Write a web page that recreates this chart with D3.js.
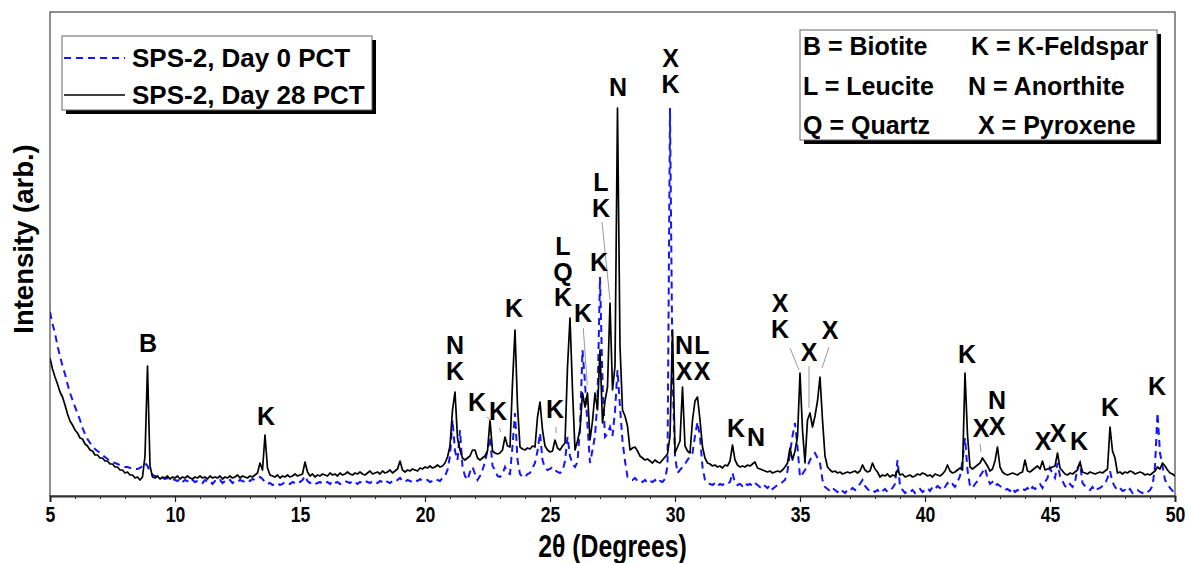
<!DOCTYPE html>
<html>
<head>
<meta charset="utf-8">
<script src="https://cdn.jsdelivr.net/npm/d3@7"></script>
<style>
  html, body { margin: 0; padding: 0; background: #fff; }
  svg { display: block; }
</style>
</head>
<body>
<svg id="chart" width="1189" height="563"></svg>
<script>
// XRD scan settings (2θ start and step, degrees)
const scanStart = 5;
const scanStep = 0.1;

// Intensity (arb.) of SPS-2 before PCT, one value per scan step from 5° to 50°
const day0 = [
  184,172,163,150,140,130,122,112,103,96,
  89,83,76,68,62,57,53,50,47,45,
  43,41,39,37,35,34,33,32,31,30,
  29,29,28,28,27,27,28,30,33,30,
  24,21,20,19,18,18,17,18,16,17,
  16,15,17,14,16,15,13,16,14,15,
  15,13,16,14,15,12,15,14,16,13,
  15,14,16,13,15,14,16,15,14,16,
  15,17,16,18,19,17,14,12,13,11,
  12,13,11,12,14,13,12,14,13,15,
  14,16,20,15,13,14,12,13,14,12,
  13,14,12,15,13,14,12,13,15,14,
  13,15,14,12,14,13,15,14,13,15,
  14,13,15,14,16,14,13,15,14,16,
  18,15,14,16,15,14,16,15,17,15,
  15,16,14,15,17,16,15,18,20,26,
  40,76,45,36,66,29,20,16,24,29,
  22,16,20,26,34,46,59,30,26,20,
  19,22,29,23,22,50,83,36,22,19,
  19,22,23,28,33,45,63,36,28,26,
  27,29,26,24,23,25,35,59,40,32,
  29,34,69,146,113,70,33,46,60,96,
  219,113,59,62,69,60,85,126,89,55,
  35,19,17,16,18,15,16,14,16,13,
  15,14,16,13,15,14,17,30,388,120,
  40,23,26,29,32,36,40,43,60,74,
  59,29,16,13,12,11,13,10,12,11,
  13,12,14,23,13,11,12,10,13,11,
  12,10,13,11,9,12,10,8,11,7,
  9,11,12,14,16,25,43,60,73,49,
  19,22,26,30,36,40,43,38,33,16,
  9,7,5,8,6,4,7,5,3,6,
  5,8,6,9,12,16,10,7,5,6,
  4,6,3,5,7,4,6,8,12,36,
  10,6,3,5,4,6,3,5,7,4,
  6,8,5,9,7,10,8,11,9,13,
  10,12,9,14,20,35,58,26,10,8,
  12,15,20,24,28,18,12,14,10,12,
  10,8,6,7,5,8,4,6,5,7,
  6,8,5,9,7,10,12,8,14,18,
  28,22,18,33,20,15,10,8,12,9,
  14,28,33,13,10,8,6,9,5,7,
  8,10,12,18,25,14,9,6,8,5,
  6,4,7,3,5,6,4,3,5,4,
  6,10,30,83,43,30,16,12,8,5,
  4
];

// Intensity (arb.) of SPS-2 after 28 days of PCT
const day28 = [
  138,127,119,112,104,99,91,82,75,71,
  66,63,58,57,52,50,46,45,41,41,
  38,38,35,35,32,32,29,29,26,26,
  23,24,21,21,18,19,16,19,40,130,
  30,19,18,20,17,19,18,20,17,19,
  18,20,17,19,18,20,18,17,19,18,
  20,18,19,17,20,18,19,18,20,17,
  19,18,20,18,19,21,18,20,19,18,
  20,19,21,23,33,26,61,28,21,20,
  19,21,18,20,19,21,19,20,22,20,
  21,22,34,24,20,22,19,21,20,22,
  21,20,23,21,22,20,23,21,22,24,
  22,21,23,22,24,22,21,23,25,22,
  23,24,22,25,23,24,26,23,25,27,
  35,26,24,26,25,27,26,25,28,27,
  29,28,30,28,29,31,29,30,33,39,
  50,86,104,58,46,38,36,38,40,46,
  46,38,36,38,40,45,76,45,43,42,
  43,46,59,50,49,113,166,90,49,47,
  46,48,47,50,49,79,94,66,50,46,
  44,45,56,48,46,50,53,129,178,106,
  46,55,66,103,89,103,56,75,103,86,
  146,73,95,109,193,106,130,388,150,86,
  80,70,46,48,49,45,40,38,36,37,
  35,33,36,34,33,36,39,42,60,166,
  43,49,55,109,50,45,43,76,95,99,
  76,49,38,33,32,30,31,29,30,28,
  31,30,35,51,36,31,29,30,29,31,
  30,32,34,28,27,26,25,24,25,23,
  24,25,24,26,29,33,48,36,45,59,
  123,66,33,76,83,69,80,95,119,76,
  40,29,26,24,25,23,24,22,23,24,
  23,24,25,23,25,31,26,24,25,33,
  27,24,19,21,20,22,19,21,20,26,
  21,22,19,20,21,19,20,22,21,23,
  22,20,21,19,22,21,20,22,25,31,
  25,23,24,26,28,26,123,61,29,27,
  29,31,33,38,34,30,25,27,35,49,
  29,24,22,21,22,23,22,21,23,24,
  36,25,24,26,28,30,27,35,26,27,
  28,29,30,43,28,25,22,21,23,22,
  24,26,34,24,23,22,24,23,22,23,
  24,23,25,27,69,45,38,23,24,22,
  24,23,25,24,22,23,24,23,21,22,
  21,23,25,29,27,33,30,26,23,22,
  20
];

const seriesNames = ["SPS-2, Day 0 PCT", "SPS-2, Day 28 PCT"];
const majorTicks = [5, 10, 15, 20, 25, 30, 35, 40, 45, 50];
const minorTicks = d3.range(5, 51, 1);

// Phase labels: 2θ of the label, intensity level of its first line, stacked letters
const peakLabels = [
  { theta: 8.92,  level: 153, lines: ["B"] },
  { theta: 13.64, level: 80,  lines: ["K"] },
  { theta: 21.2,  level: 151, lines: ["N", "K"] },
  { theta: 22.08, level: 94,  lines: ["K"] },
  { theta: 22.92, level: 85,  lines: ["K"] },
  { theta: 23.56, level: 188, lines: ["K"] },
  { theta: 25.2,  level: 87,  lines: ["K"] },
  { theta: 25.52, level: 250, lines: ["L", "Q", "K"] },
  { theta: 26.32, level: 183, lines: ["K"] },
  { theta: 26.96, level: 234, lines: ["K"] },
  { theta: 27.04, level: 314, lines: ["L", "K"] },
  { theta: 27.72, level: 409, lines: ["N"] },
  { theta: 29.82, level: 438, lines: ["X", "K"] },
  { theta: 30.36, level: 151, lines: ["N", "X"] },
  { theta: 31.08, level: 151, lines: ["L", "X"] },
  { theta: 32.44, level: 68,  lines: ["K"] },
  { theta: 33.24, level: 59,  lines: ["N"] },
  { theta: 34.2,  level: 193, lines: ["X", "K"] },
  { theta: 35.36, level: 144, lines: ["X"] },
  { theta: 36.2,  level: 166, lines: ["X"] },
  { theta: 41.68, level: 142, lines: ["K"] },
  { theta: 42.24, level: 68,  lines: ["X"] },
  { theta: 42.88, level: 96,  lines: ["N", "X"] },
  { theta: 44.72, level: 55,  lines: ["X"] },
  { theta: 45.32, level: 63,  lines: ["X"] },
  { theta: 46.16, level: 55,  lines: ["K"] },
  { theta: 47.4,  level: 89,  lines: ["K"] },
  { theta: 49.28, level: 110, lines: ["K"] }
];

// Leader lines from labels to their peaks: [2θ1, I1, 2θ2, I2]
const leaders = [
  [22.48, 79, 22.64, 75],
  [22.97, 68, 23.04, 64],
  [25.24, 69, 25.24, 63],
  [26.33, 168, 26.49, 111],
  [27.08, 274, 27.40, 196],
  [34.60, 148, 34.96, 126],
  [35.36, 130, 35.36, 88],
  [36.16, 149, 35.88, 128],
  [42.20, 52, 42.24, 44]
];

const phaseKey = [
  ["B = Biotite", "K = K-Feldspar"],
  ["L = Leucite", "N = Anorthite"],
  ["Q = Quartz", "X = Pyroxene"]
];

// ---- layout ----
const plot = { left: 50, right: 1175, top: 12, bottom: 496 };
const svg = d3.select("#chart");
const sansBold = "'Liberation Sans', Arial, Helvetica, sans-serif";
const narrow = 0.8; // horizontal squeeze for the condensed axis lettering

const x = d3.scaleLinear().domain([5, 50]).range([plot.left, plot.right]);
const y = d3.scaleLinear().domain([0, 484]).range([plot.bottom, plot.top]);

const thetaAt = i => scanStart + i * scanStep;
const line = d3.line()
  .x((d, i) => x(thetaAt(i)))
  .y(d => y(d));

svg.append("clipPath").attr("id", "plotClip")
  .append("rect")
  .attr("x", plot.left).attr("y", plot.top)
  .attr("width", plot.right - plot.left).attr("height", plot.bottom - plot.top);

const traces = svg.append("g").attr("clip-path", "url(#plotClip)");
traces.append("path")
  .datum(day0)
  .attr("d", line)
  .attr("fill", "none")
  .attr("stroke", "#1414ff")
  .attr("stroke-width", 2)
  .attr("stroke-dasharray", "7,5");
traces.append("path")
  .datum(day28)
  .attr("d", line)
  .attr("fill", "none")
  .attr("stroke", "#000")
  .attr("stroke-width", 1.7)
  .attr("stroke-linejoin", "round");

// frame
svg.append("rect")
  .attr("x", plot.left).attr("y", plot.top)
  .attr("width", plot.right - plot.left).attr("height", plot.bottom - plot.top)
  .attr("fill", "none").attr("stroke", "#222").attr("stroke-width", 1);

// x axis: minor ticks every degree, labelled major ticks every 5°
const minorAxis = d3.axisBottom(x).tickValues(minorTicks).tickSize(3).tickFormat("");
svg.append("g").attr("transform", `translate(0,${plot.bottom})`).call(minorAxis)
  .call(g => g.select(".domain").remove())
  .call(g => g.selectAll("line").attr("stroke", "#222").attr("stroke-width", 1));

const majorAxis = d3.axisBottom(x).tickValues(majorTicks).tickSize(6).tickPadding(4)
  .tickFormat(d3.format("d"));
svg.append("g").attr("transform", `translate(0,${plot.bottom})`).call(majorAxis)
  .call(g => g.select(".domain").attr("stroke", "#333").attr("stroke-width", 2))
  .call(g => g.selectAll("line").attr("stroke", "#222").attr("stroke-width", 1.2))
  .call(g => g.selectAll("text")
    .attr("font-family", sansBold)
    .attr("font-weight", "bold")
    .attr("font-size", 22)
    .attr("fill", "#000")
    .attr("transform", `scale(${narrow},1)`));

// axis titles
svg.append("g")
  .attr("transform", `translate(${(plot.left + plot.right) / 2},557) scale(${narrow},1)`)
  .append("text")
  .attr("text-anchor", "middle")
  .attr("font-family", sansBold)
  .attr("font-weight", "bold")
  .attr("font-size", 31)
  .text("2θ (Degrees)");

svg.append("text")
  .attr("transform", "translate(33,239) rotate(-90)")
  .attr("text-anchor", "middle")
  .attr("font-family", sansBold)
  .attr("font-weight", "bold")
  .attr("font-size", 27.5)
  .text("Intensity (arb.)");

// leader lines
svg.append("g").selectAll("line").data(leaders).join("line")
  .attr("x1", d => x(d[0])).attr("y1", d => y(d[1]))
  .attr("x2", d => x(d[2])).attr("y2", d => y(d[3]))
  .attr("stroke", "#999").attr("stroke-width", 1);

// phase labels
const lineGap = 25.5;
const labelG = svg.append("g")
  .attr("font-family", sansBold)
  .attr("font-weight", "bold")
  .attr("font-size", 25)
  .attr("text-anchor", "middle");
peakLabels.forEach(p => {
  p.lines.forEach((t, k) => {
    labelG.append("text")
      .attr("x", x(p.theta))
      .attr("y", y(p.level) + k * lineGap)
      .attr("dy", "0.36em")
      .text(t);
  });
});

// boxed legend with drop shadow
function shadowBox(bx, by, bw, bh) {
  svg.append("rect").attr("x", bx + 4).attr("y", by + 4)
    .attr("width", bw).attr("height", bh).attr("fill", "#000");
  svg.append("rect").attr("x", bx).attr("y", by)
    .attr("width", bw).attr("height", bh)
    .attr("fill", "#fff").attr("stroke", "#666").attr("stroke-width", 1);
}

// series legend
shadowBox(62, 36, 310, 74);
const legendRows = [
  { name: seriesNames[0], color: "#1414ff", dash: "7,5", width: 2 },
  { name: seriesNames[1], color: "#000", dash: null, width: 1.5 }
];
legendRows.forEach((r, k) => {
  const cy = 58 + k * 37;
  svg.append("line")
    .attr("x1", 64).attr("x2", 125).attr("y1", cy).attr("y2", cy)
    .attr("stroke", r.color).attr("stroke-width", r.width)
    .attr("stroke-dasharray", r.dash);
  svg.append("text")
    .attr("x", 132).attr("y", cy).attr("dy", "0.36em")
    .attr("font-family", sansBold).attr("font-weight", "bold")
    .attr("font-size", 26)
    .text(r.name);
});

// phase key
shadowBox(800, 30, 357, 110);
const keyColX = [[803, 971], [803, 968], [803, 978]];
phaseKey.forEach((row, k) => {
  const cy = 46 + k * 39.5;
  row.forEach((t, c) => {
    svg.append("text")
      .attr("x", keyColX[k][c]).attr("y", cy).attr("dy", "0.36em")
      .attr("font-family", sansBold).attr("font-weight", "bold")
      .attr("font-size", 25)
      .text(t);
  });
});
</script>
</body>
</html>
